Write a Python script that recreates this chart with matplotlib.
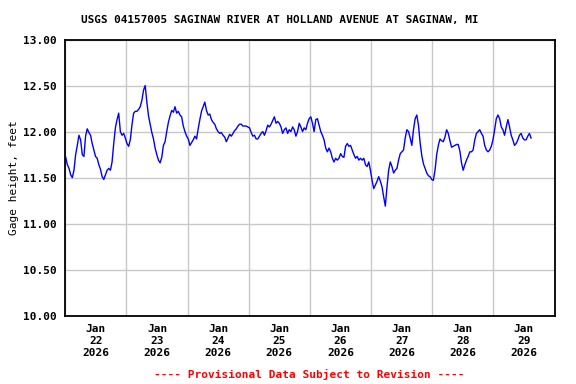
import numpy as np
import pandas as pd
import matplotlib
matplotlib.use("Agg")
import matplotlib.pyplot as plt
import matplotlib.dates as mdates

# Odczyty poziomu wody (ft), co ~39 min od 2026-01-22 00:09
start_time = "2026-01-22 00:09"
step = "39min"
gage_height = [
    11.72, 11.64, 11.60, 11.53, 11.50, 11.58, 11.75, 11.85, 11.96, 11.91,
    11.75, 11.73, 11.95, 12.03, 11.99, 11.96, 11.87, 11.80, 11.73, 11.71,
    11.64, 11.59, 11.51, 11.48, 11.53, 11.58, 11.60, 11.58, 11.67, 11.87,
    12.04, 12.13, 12.20, 12.00, 11.96, 11.98, 11.93, 11.87, 11.84, 11.91,
    12.07, 12.20, 12.22,
    # 23 sty
    12.22, 12.24, 12.27, 12.34, 12.45, 12.50, 12.32, 12.17, 12.08, 11.99,
    11.92, 11.82, 11.75, 11.69, 11.66, 11.72, 11.85, 11.89, 12.00, 12.10,
    12.17, 12.23, 12.21, 12.27, 12.20, 12.22, 12.18, 12.16, 12.06, 12.00,
    11.95, 11.92, 11.85, 11.88, 11.91, 11.95, 11.92, 12.03, 12.13, 12.22,
    12.27, 12.32,
    # 24 sty
    12.23, 12.18, 12.19, 12.13, 12.10, 12.08, 12.03, 12.00, 11.98, 11.99,
    11.96, 11.94, 11.89, 11.93, 11.97, 11.95, 11.98, 12.01, 12.03, 12.06,
    12.08, 12.08, 12.06, 12.06, 12.06, 12.05, 12.04, 11.99, 11.95, 11.96,
    11.92, 11.92, 11.95, 11.98, 12.00, 11.96, 12.01, 12.07, 12.05, 12.08,
    12.12, 12.16,
    # 25 sty
    12.09, 12.11, 12.09, 12.05, 11.98, 12.02, 12.04, 11.98, 12.02, 12.00,
    12.05, 12.02, 11.95, 12.00, 12.09, 12.05, 12.00, 12.04, 12.02, 12.09,
    12.14, 12.16, 12.09, 12.00, 12.13, 12.14, 12.07, 12.00, 11.96, 11.91,
    11.82, 11.78, 11.82, 11.78, 11.71, 11.67, 11.71, 11.69, 11.71, 11.76,
    11.73, 11.72,
    # 26 sty
    11.84, 11.87, 11.84, 11.85, 11.80, 11.75, 11.71, 11.73, 11.69, 11.71,
    11.69, 11.71, 11.64, 11.62, 11.67, 11.58, 11.47, 11.38, 11.42, 11.46,
    11.51, 11.46, 11.40, 11.29, 11.19, 11.40, 11.58, 11.67, 11.62, 11.55,
    11.58, 11.60, 11.69, 11.76, 11.78, 11.80, 11.93, 12.02, 12.00, 11.93,
    11.85, 12.02,
    # 27 sty
    12.14, 12.18, 12.07, 11.88, 11.74, 11.65, 11.60, 11.55, 11.52, 11.51,
    11.48, 11.47, 11.58, 11.75, 11.85, 11.92, 11.90, 11.89, 11.94, 12.02,
    11.98, 11.90, 11.83, 11.84, 11.85, 11.86, 11.86, 11.79, 11.66, 11.58,
    11.64, 11.69, 11.73, 11.78, 11.78, 11.80, 11.91, 11.98, 12.00, 12.02,
    11.98, 11.95,
    # 28-29 sty
    11.85, 11.80, 11.78, 11.80, 11.84, 11.91, 12.02, 12.14, 12.18, 12.14,
    12.05, 12.02, 11.96, 12.05, 12.13, 12.05, 11.96, 11.91, 11.85, 11.87,
    11.91, 11.96, 11.98, 11.93, 11.91, 11.91, 11.95, 11.98, 11.93,
]
days = pd.date_range("2026-01-22", "2026-01-30", freq="D")
y_ticks = [10.0, 10.5, 11.0, 11.5, 12.0, 12.5, 13.0]

times = pd.date_range(start_time, periods=len(gage_height), freq=step)

font = "DejaVu Sans Mono"
plt.rcParams["font.family"] = font
plt.rcParams["font.weight"] = "bold"

fig = plt.figure(figsize=(5.76, 3.84), dpi=100)
ax = fig.add_axes([0.1134, 0.1779, 0.8493, 0.7192])

ax.plot(times, gage_height, color="#0000ff", linewidth=1.0)

ax.set_xlim(days[0], days[-1])
ax.set_ylim(10, 13)
ax.set_yticks(y_ticks)
ax.set_yticklabels([f"{v:.2f}" for v in y_ticks])

# etykiety w południe, siatka o północy
noon = days[:-1] + pd.Timedelta(hours=12)
ax.set_xticks(noon)
ax.set_xticklabels([d.strftime("%b\n%d\n%Y") for d in noon], linespacing=1.25)
ax.set_xticks(days, minor=True)
ax.grid(which="minor", axis="x", color="#c8c8c8", linewidth=1.0)
ax.grid(which="major", axis="y", color="#c8c8c8", linewidth=1.0)
ax.tick_params(which="both", length=0, labelsize=8)
ax.tick_params(axis="y", pad=6)
ax.tick_params(axis="x", pad=6)

for s in ax.spines.values():
    s.set_linewidth(1.3)

ax.set_ylabel("Gage height, feet", fontsize=8, labelpad=3)

fig.text(0.485, 0.948, "USGS 04157005 SAGINAW RIVER AT HOLLAND AVENUE AT SAGINAW, MI",
         ha="center", va="center", fontsize=7.9)
fig.text(0.537, 0.026, "---- Provisional Data Subject to Revision ----",
         ha="center", va="center", fontsize=8, color="red")

fig.savefig("out.png", dpi=100)
